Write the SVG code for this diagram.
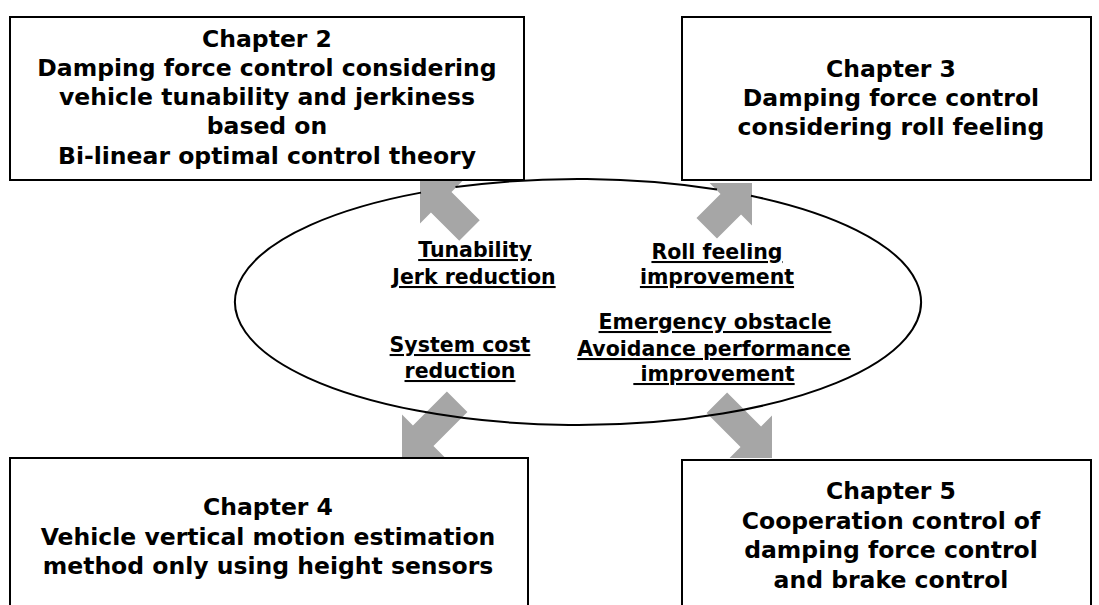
<svg xmlns="http://www.w3.org/2000/svg" width="1099" height="605" viewBox="0 0 1099 605">
<style>
.box{fill:#fff;stroke:#000;stroke-width:2}
.t{font-family:"DejaVu Sans","Noto Sans",sans-serif;font-weight:bold;font-size:23.5px;fill:#000;text-anchor:middle}
.lb{font-family:"DejaVu Sans","Noto Sans",sans-serif;font-weight:bold;font-size:20.5px;fill:#000;text-anchor:middle;text-decoration:underline}
.arr{fill:#a6a6a6;stroke:none}
.ell{fill:none;stroke:#000;stroke-width:2}
</style>
<defs>
<path id="a70" d="M0,0 L-30,-30 L-30,-14.5 L-70,-14.5 L-70,14.5 L-30,14.5 L-30,30 Z"/>
<path id="a64" d="M0,0 L-30,-30 L-30,-14.5 L-64,-14.5 L-64,14.5 L-30,14.5 L-30,30 Z"/>
<path id="a78" d="M0,0 L-30,-30 L-30,-14.5 L-78,-14.5 L-78,14.5 L-30,14.5 L-30,30 Z"/>
</defs>
<rect width="1099" height="605" fill="#fff"/>
<g id="ch2">
<rect class="box" x="10" y="17" width="514" height="163"/>
<text class="t" x="267" y="47">Chapter 2</text>
<text class="t" x="267" y="76">Damping force control considering</text>
<text class="t" x="267" y="105">vehicle tunability and jerkiness</text>
<text class="t" x="267" y="134">based on</text>
<text class="t" x="267" y="164">Bi-linear optimal control theory</text>
</g>
<g id="ch3">
<rect class="box" x="682" y="17" width="409" height="163"/>
<text class="t" x="891" y="77">Chapter 3</text>
<text class="t" x="891" y="106">Damping force control</text>
<text class="t" x="891" y="135">considering roll feeling</text>
</g>
<g id="ch4">
<rect class="box" x="10" y="458" width="518" height="160"/>
<text class="t" x="268" y="515">Chapter 4</text>
<text class="t" x="268" y="545">Vehicle vertical motion estimation</text>
<text class="t" x="268" y="574">method only using height sensors</text>
</g>
<g id="ch5">
<rect class="box" x="682" y="460" width="409" height="160"/>
<text class="t" x="891" y="499">Chapter 5</text>
<text class="t" x="891" y="529">Cooperation control of</text>
<text class="t" x="891" y="558">damping force control</text>
<text class="t" x="891" y="588">and brake control</text>
</g>
<g id="connectors">
<use href="#a70" class="arr" transform="translate(420,181) rotate(225)"/>
<use href="#a64" class="arr" transform="translate(752,183) rotate(-45)"/>
<use href="#a78" class="arr" transform="translate(402,457) rotate(135)"/>
<use href="#a78" class="arr" transform="translate(772,458) rotate(45)"/>
</g>
<g id="effects">
<path class="ell" d="M455.5,187.11 A343,123 0 0,1 717,189.55 M751,195.79 A343,123 0 1,1 421,192.64"/>
<text class="lb" x="475" y="257">Tunability</text>
<text class="lb" x="474" y="284">Jerk reduction</text>
<text class="lb" x="717" y="259">Roll feeling</text>
<text class="lb" x="717" y="284">improvement</text>
<text class="lb" x="715" y="329">Emergency obstacle</text>
<text class="lb" x="714" y="356">Avoidance performance</text>
<text class="lb" x="714" y="381" xml:space="preserve"> improvement</text>
<text class="lb" x="460" y="352">System cost</text>
<text class="lb" x="460" y="378">reduction</text>
</g>
</svg>
